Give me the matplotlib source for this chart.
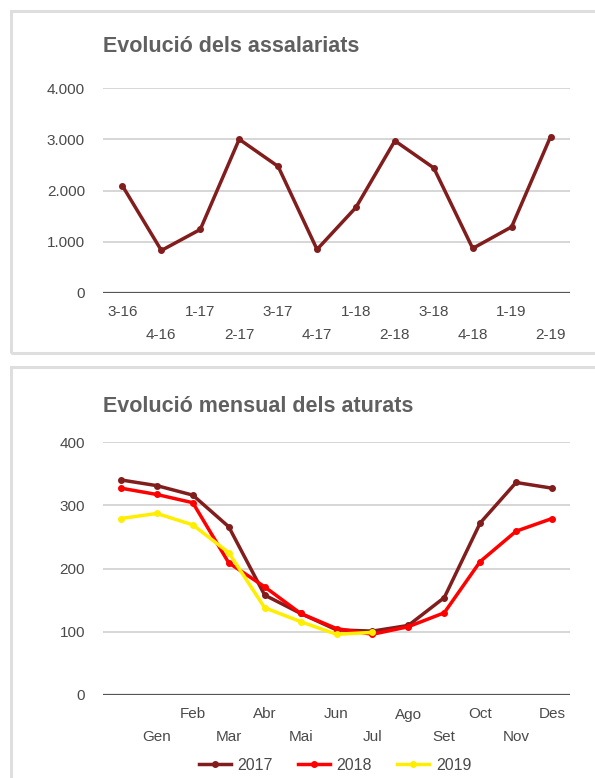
import matplotlib
matplotlib.use("Agg")
import matplotlib.pyplot as plt
from matplotlib.patches import Rectangle
from matplotlib.ticker import FuncFormatter

plt.rcParams["font.family"] = ["Liberation Sans", "DejaVu Sans"]

# Assalariats per trimestre
trimestres = ["3-16", "4-16", "1-17", "2-17", "3-17", "4-17",
              "1-18", "2-18", "3-18", "4-18", "1-19", "2-19"]
assalariats = [2090, 830, 1240, 3000, 2470, 850,
               1670, 2970, 2440, 870, 1290, 3050]

# Aturats per mes (el primer punt no porta etiqueta)
mesos = ["", "Gen", "Feb", "Mar", "Abr", "Mai", "Jun",
         "Jul", "Ago", "Set", "Oct", "Nov", "Des"]
aturats_2017 = [340, 331, 316, 266, 158, 129, 103, 101, 110, 154, 272, 336, 327]
aturats_2018 = [327, 317, 304, 209, 171, 129, 105, 96, 108, 130, 211, 259, 279]
aturats_2019 = [279, 287, 269, 225, 138, 116, 96, 99]

W, H = 595, 778
TEXT = "#4a4a4a"
TITLE = "#606060"
GRID = "#d0d0d0"
C2017 = "#821d1d"
C2018 = "#ff0000"
C2019 = "#ffee00"
FS = 11

fig = plt.figure(figsize=(W / 100, H / 100), dpi=100)


def box(x0, y0, x1, y1):
    # coordenades en píxels des de dalt a l'esquerra
    return [x0 / W, 1 - y1 / H, (x1 - x0) / W, (y1 - y0) / H]


# marcs dels dos panells
for y0, y1 in [(11, 353), (367, 800)]:
    fig.patches.append(Rectangle((11 / W, 1 - y1 / H), (620 - 11) / W, (y1 - y0) / H,
                                 transform=fig.transFigure, fill=False,
                                 edgecolor="#dedede", linewidth=2.2))


def estil(ax, ymax, step):
    for s in ax.spines.values():
        s.set_visible(False)
    ax.set_ylim(0, ymax)
    ax.set_yticks(range(0, ymax + 1, step))
    ax.yaxis.grid(True, color=GRID, linewidth=1.2)
    ax.set_axisbelow(True)
    ax.axhline(0, color="#555555", linewidth=1.6, zorder=1)
    ax.tick_params(axis="y", length=0, pad=13, labelsize=FS, labelcolor=TEXT)
    ax.tick_params(axis="x", which="both", length=0, labelsize=FS, labelcolor=TEXT)
    ax.tick_params(axis="x", which="major", pad=9)
    ax.tick_params(axis="x", which="minor", pad=25)


def etiquetes(ax, labels):
    # etiquetes alternades en dues files
    parells = list(range(0, len(labels), 2))
    senars = list(range(1, len(labels), 2))
    ax.set_xticks(parells, [labels[i] for i in parells])
    ax.set_xticks(senars, [labels[i] for i in senars], minor=True)
    ax.set_xlim(-0.5, len(labels) - 0.5)


# --- Evolució dels assalariats ---
ax1 = fig.add_axes(box(103, 88, 570, 293))
estil(ax1, 4000, 1000)
ax1.yaxis.set_major_formatter(FuncFormatter(lambda v, p: f"{int(v):,}".replace(",", ".")))
ax1.plot(range(len(trimestres)), assalariats, color=C2017, linewidth=2.5,
         marker="o", markersize=4, zorder=3)
etiquetes(ax1, trimestres)
fig.text(103 / W, 1 - 47 / H, "Evolució dels assalariats", fontsize=15.5,
         fontweight="bold", color=TITLE, va="center", ha="left")

# --- Evolució mensual dels aturats ---
ax2 = fig.add_axes(box(103, 442, 570, 695))
estil(ax2, 400, 100)
x = range(len(mesos))
ax2.plot(x, aturats_2017, color=C2017, linewidth=2.5, marker="o", markersize=4,
         label="2017", zorder=3)
ax2.plot(x, aturats_2018, color=C2018, linewidth=2.5, marker="o", markersize=4,
         label="2018", zorder=4)
ax2.plot(range(len(aturats_2019)), aturats_2019, color=C2019, linewidth=2.5,
         marker="o", markersize=4, label="2019", zorder=5)
etiquetes(ax2, mesos)
fig.text(103 / W, 1 - 407 / H, "Evolució mensual dels aturats", fontsize=15.5,
         fontweight="bold", color=TITLE, va="center", ha="left")

leg = fig.legend(loc="center", bbox_to_anchor=(335 / W, 1 - 765 / H), ncol=3,
                 frameon=False, fontsize=11.5, handlelength=2.0, handletextpad=0.4,
                 columnspacing=1.6, labelcolor=TEXT)

fig.savefig("out.png", dpi=100)
